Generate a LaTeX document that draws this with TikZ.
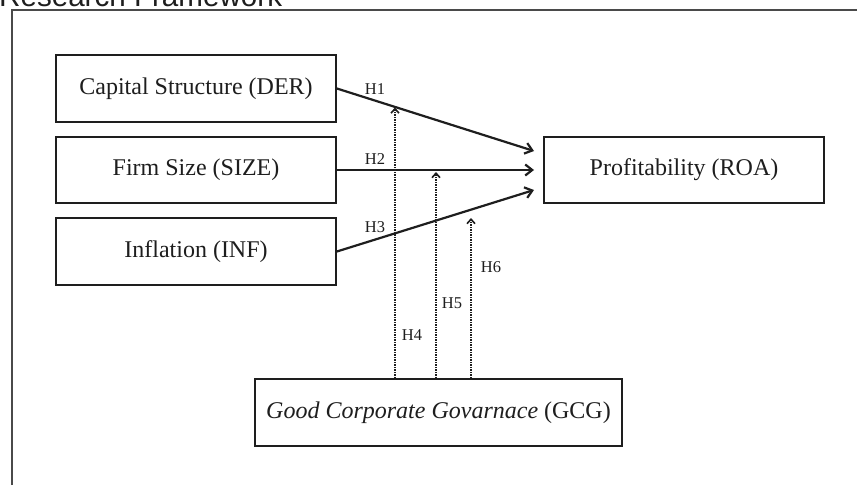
\documentclass[tikz,border=0pt]{standalone}
\usepackage{fontspec}
\setmainfont{Liberation Serif}
\newfontfamily\titlefont{Liberation Sans}
\usetikzlibrary{arrows.meta}
\definecolor{ink}{HTML}{1E1E1E}
\definecolor{framegray}{HTML}{4A4A4A}
\tikzset{
  varbox/.style={draw=ink, line width=1.8pt, minimum width=280pt, minimum height=67pt,
    inner sep=0pt, text=ink, font=\fontsize{24}{28}\selectfont},
  path/.style={draw=ink, line width=2.2pt, -{Straight Barb[length=7pt,width=11pt,line width=2.2pt]}},
  moderate/.style={draw=ink, line width=2.3pt, dash pattern=on 1.3pt off 1.2pt,
    -{Straight Barb[length=4.5pt,width=8pt,line width=1.6pt]}},
  hlabel/.style={text=ink, font=\fontsize{16.5}{19}\selectfont, inner sep=0pt}
}
\begin{document}
\begin{tikzpicture}[x=1pt, y=-1pt]
\useasboundingbox (0,0) rectangle (857,485);
\fill[white] (0,0) rectangle (857,485);

% heading (runs off the top edge) and the open frame
\node[anchor=base west, inner sep=0pt, text=ink, font=\titlefont\fontsize{29.6}{34}\selectfont] (title) at (-1,6.5) {Research Framework};
\draw[framegray, line width=1.5pt] (12,485) -- (12,10) -- (857,10);

% variables
\node[varbox] (der)  at (196,88.5)  {Capital Structure (DER)};
\node[varbox, minimum height=66pt] (size) at (196,170) {Firm Size (SIZE)};
\node[varbox] (inf)  at (196,251.5) {Inflation (INF)};
\node[varbox, minimum height=66pt] (roa)  at (684,170) {Profitability (ROA)};
\node[varbox, minimum width=367pt] (gcg) at (438.5,412.5) {\textit{Good Corporate Govarnace} (GCG)};

% arrow end points
\coordinate (t1) at (534,151);
\coordinate (t2) at (534,170);
\coordinate (t3) at (534,190);
\coordinate (m1) at (395,107.5);
\coordinate (m2) at (436,172);
\coordinate (m3) at (471,218);

% direct effects
\draw[path] (der.east) -- (t1);
\draw[path] (size.east) -- (t2);
\draw[path] (inf.east) -- (t3);

% moderating effects of GCG
\draw[moderate] (gcg.north -| m1) -- (m1);
\draw[moderate] (gcg.north -| m2) -- (m2);
\draw[moderate] (gcg.north -| m3) -- (m3);

% hypothesis labels
\node[hlabel] (h1) at (375,89) {H1};
\node[hlabel] (h2) at (375,159) {H2};
\node[hlabel] (h3) at (375,227) {H3};
\node[hlabel] (h4) at (412,335) {H4};
\node[hlabel] (h5) at (452,303) {H5};
\node[hlabel] (h6) at (491,267) {H6};
\end{tikzpicture}
\end{document}
